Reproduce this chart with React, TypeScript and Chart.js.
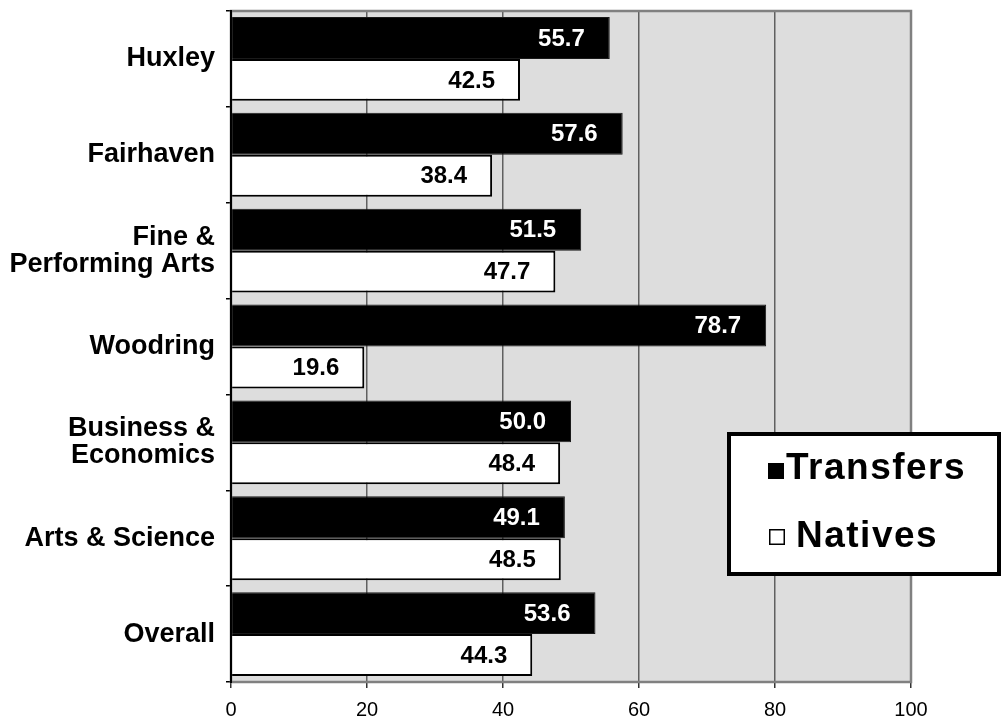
import React, { useEffect, useRef } from "react";
import { Chart, registerables } from "chart.js";

Chart.register(...registerables);

const categories: (string | string[])[] = [
  "Huxley",
  "Fairhaven",
  ["Fine &", "Performing Arts"],
  "Woodring",
  ["Business &", "Economics"],
  "Arts & Science",
  "Overall",
];
const seriesNames = ["Transfers", "Natives"];
const transfers = [55.7, 57.6, 51.5, 78.7, 50.0, 49.1, 53.6];
const natives = [42.5, 38.4, 47.7, 19.6, 48.4, 48.5, 44.3];
const xTicks = [0, 20, 40, 60, 80, 100];

const FONT = "'Liberation Sans', Arial, sans-serif";

const backgroundPlugin = {
  id: "plotBg",
  beforeDraw(chart: any) {
    const { ctx, chartArea: a } = chart;
    ctx.save();
    ctx.fillStyle = "#dddddd";
    ctx.fillRect(a.left, a.top, a.right - a.left, a.bottom - a.top);
    ctx.restore();
  },
};

const frameAndLabelsPlugin = {
  id: "frameLabels",
  afterDatasetsDraw(chart: any) {
    const { ctx, chartArea: a } = chart;
    ctx.save();
    ctx.strokeStyle = "#808080";
    ctx.lineWidth = 2.5;
    ctx.strokeRect(a.left, a.top, a.right - a.left, a.bottom - a.top);
    ctx.strokeStyle = "#000";
    ctx.lineWidth = 2;
    ctx.beginPath();
    ctx.moveTo(a.left, a.top - 1);
    ctx.lineTo(a.left, a.bottom + 1);
    ctx.stroke();
    ctx.font = `bold 24px ${FONT}`;
    ctx.textAlign = "right";
    ctx.textBaseline = "middle";
    chart.data.datasets.forEach((ds: any, di: number) => {
      const meta = chart.getDatasetMeta(di);
      meta.data.forEach((bar: any, i: number) => {
        ctx.fillStyle = di === 0 ? "#ffffff" : "#000000";
        ctx.fillText(Number(ds.data[i]).toFixed(1), bar.x - 25, bar.y + 1);
      });
    });
    ctx.restore();
  },
};

const legendPlugin = {
  id: "boxLegend",
  afterDraw(chart: any) {
    const { ctx } = chart;
    ctx.save();
    const x0 = 727, y0 = 432, x1 = 1001, y1 = 576;
    ctx.fillStyle = "#ffffff";
    ctx.fillRect(x0, y0, x1 - x0, y1 - y0);
    ctx.strokeStyle = "#000";
    ctx.lineWidth = 4;
    ctx.strokeRect(x0 + 2, y0 + 2, x1 - x0 - 4, y1 - y0 - 4);
    const items = [
      { sq: [768, 463], base: 479, tx: 786 },
      { sq: [769, 529], base: 547, tx: 796 },
    ];
    ctx.font = `bold 37px ${FONT}`;
    (ctx as any).letterSpacing = "1.5px";
    ctx.textAlign = "left";
    ctx.textBaseline = "alphabetic";
    chart.data.datasets.forEach((ds: any, i: number) => {
      const it = items[i];
      ctx.fillStyle = ds.backgroundColor;
      ctx.fillRect(it.sq[0], it.sq[1], 16, 16);
      ctx.strokeStyle = "#000";
      ctx.lineWidth = 1.5;
      ctx.strokeRect(it.sq[0] + 0.75, it.sq[1] + 0.75, 14.5, 14.5);
      ctx.fillStyle = "#000";
      ctx.fillText(ds.label, it.tx, it.base);
    });
    ctx.restore();
  },
};

export default function App() {
  const ref = useRef<HTMLCanvasElement | null>(null);
  useEffect(() => {
    if (!ref.current) return;
    const chart = new Chart(ref.current, {
      type: "bar",
      data: {
        labels: categories as any,
        datasets: [
          {
            label: seriesNames[0],
            data: transfers,
            backgroundColor: "#000000",
            borderColor: "#1a1a1a",
            borderWidth: 1,
            categoryPercentage: 0.875,
            barPercentage: 1,
          },
          {
            label: seriesNames[1],
            data: natives,
            backgroundColor: "#ffffff",
            borderColor: "#000000",
            borderWidth: 2,
            categoryPercentage: 0.875,
            barPercentage: 1,
          },
        ],
      },
      options: {
        indexAxis: "y",
        responsive: false,
        animation: false,
        layout: { padding: { top: 11, right: 95, left: 0, bottom: 0 } },
        plugins: {
          legend: { display: false },
          tooltip: { enabled: false },
          title: { display: false },
        },
        scales: {
          x: {
            min: 0,
            max: 100,
            afterBuildTicks: (scale: any) => {
              scale.ticks = xTicks.map((v) => ({ value: v }));
            },
            afterFit: (scale: any) => {
              scale.height = 37;
              scale.paddingLeft = 0;
              scale.paddingRight = 0;
            },
            grid: {
              color: "#606060",
              lineWidth: 1.5,
              tickColor: "#333333",
              tickLength: 6,
            },
            border: { display: false },
            ticks: {
              color: "#000",
              font: { family: FONT, size: 20 },
              padding: 10,
              maxRotation: 0,
            },
          },
          y: {
            afterFit: (scale: any) => {
              scale.width = 231;
              scale.paddingTop = 0;
              scale.paddingBottom = 0;
            },
            grid: {
              offset: true,
              drawOnChartArea: false,
              tickLength: 5,
              tickColor: "#000",
              lineWidth: 1.5,
            },
            border: { display: false },
            ticks: {
              color: "#000",
              font: { family: FONT, size: 27, weight: "bold", lineHeight: 1.0 },
              padding: 11,
            },
          },
        },
      },
      plugins: [backgroundPlugin, frameAndLabelsPlugin, legendPlugin],
    });
    return () => chart.destroy();
  }, []);
  return (
    <div style={{ position: "fixed", left: 0, top: 0, width: 1006, height: 719, background: "#fff" }}>
      <canvas ref={ref} width={1006} height={719} style={{ display: "block" }} />
    </div>
  );
}
